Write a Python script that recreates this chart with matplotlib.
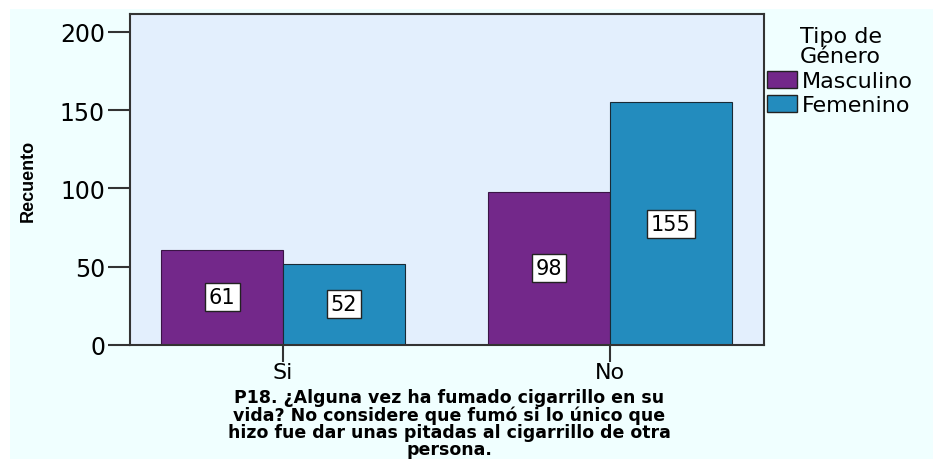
import numpy as np
import matplotlib
matplotlib.use("Agg")
import matplotlib.pyplot as plt
from matplotlib.patches import Rectangle, Patch
from matplotlib import font_manager

categories = ["Si", "No"]
masculino = [61, 98]
femenino = [52, 155]
series_names = ["Masculino", "Femenino"]
legend_title = "Tipo de\nGénero"
y_ticks = [0, 50, 100, 150, 200]
x_title = ("P18. ¿Alguna vez ha fumado cigarrillo en su\n"
           "vida? No considere que fumó si lo único que\n"
           "hizo fue dar unas pitadas al cigarrillo de otra\n"
           "persona.")

COL_M = "#73288A"
COL_F = "#238CBE"
FIG_BG = "#F0FFFF"
AX_BG = "#E3EFFD"
DARK = "#333333"

plt.rcParams["font.family"] = ["DejaVu Sans"]
names = {f.name for f in font_manager.fontManager.ttflist}
narrow = "Liberation Sans Narrow" if "Liberation Sans Narrow" in names else "Liberation Sans"

W, H = 933, 460
fig = plt.figure(figsize=(W / 100, H / 100), dpi=100, facecolor="white")
fig.patches.append(Rectangle((10 / W, 0), 1, (H - 10) / H, transform=fig.transFigure,
                             facecolor=FIG_BG, edgecolor="none", zorder=-10))

ax = fig.add_axes([130 / W, 1 - 346 / H, (764 - 130) / W, (346 - 15) / H])
ax.set_facecolor(AX_BG)

x = np.arange(len(categories))
bw = 0.373
bm = ax.bar(x - bw / 2, masculino, bw, color=COL_M, edgecolor="#3a1445", linewidth=0.8, zorder=2)
bf = ax.bar(x + bw / 2, femenino, bw, color=COL_F, edgecolor="#1a2a35", linewidth=0.8, zorder=2)

for bars, vals in ((bm, masculino), (bf, femenino)):
    for b, v in zip(bars, vals):
        ax.text(b.get_x() + b.get_width() / 2, v / 2, str(v), ha="center", va="center",
                fontsize=15, color="black", zorder=4,
                bbox=dict(boxstyle="square,pad=0.2", facecolor="white", edgecolor="#222222", linewidth=1))

ax.set_xlim(-0.468, 1.471)
ax.set_ylim(0, 211.5)
ax.set_yticks(y_ticks)
ax.set_xticks(x)
ax.set_xticklabels(categories)
ax.tick_params(axis="y", length=16, width=1.5, color=DARK, labelsize=17, pad=2, direction="out")
ax.tick_params(axis="x", length=12, width=1.5, color=DARK, labelsize=16, pad=0, direction="out")
for s in ax.spines.values():
    s.set_color(DARK)
    s.set_linewidth(1.5)

fig.text(28 / W, 1 - 181 / H, "Recuento", rotation=90, ha="center", va="center",
         fontsize=13, fontweight="bold", family=[narrow])
fig.text(449 / W, 1 - 424 / H, x_title, ha="center", va="center", fontsize=12.5,
         fontweight="bold", linespacing=0.92)

fig.text(800 / W, 1 - 47 / H, legend_title, ha="left", va="center", fontsize=16,
         linespacing=1.05)
handles = [Patch(facecolor=COL_M, edgecolor="#222222", label=series_names[0]),
           Patch(facecolor=COL_F, edgecolor="#222222", label=series_names[1])]
leg = ax.legend(handles=handles, loc="upper left",
                bbox_to_anchor=(767 / W, 1 - 72 / H), bbox_transform=fig.transFigure,
                frameon=False, fontsize=16,
                handlelength=1.35, handleheight=0.8, handletextpad=0.2,
                labelspacing=0.15, borderpad=0, borderaxespad=0)

fig.savefig("out.png", dpi=100, facecolor=fig.get_facecolor())
